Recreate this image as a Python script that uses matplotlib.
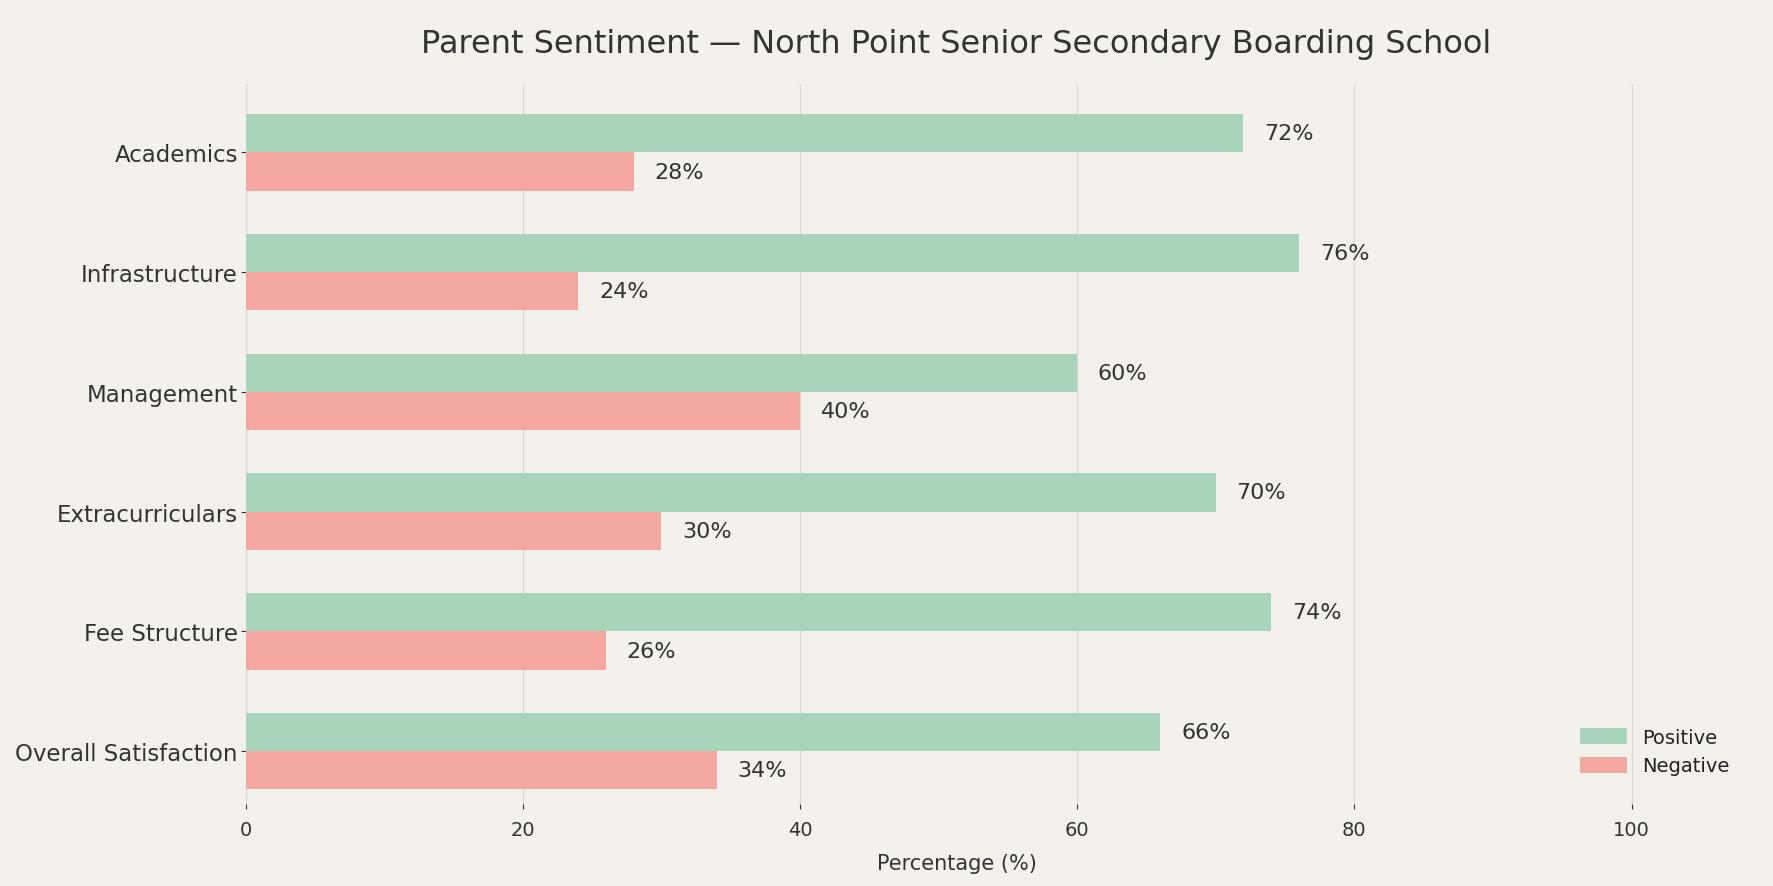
import matplotlib
matplotlib.use("Agg")
import matplotlib.pyplot as plt
import numpy as np

categories = ["Academics", "Infrastructure", "Management", "Extracurriculars",
              "Fee Structure", "Overall Satisfaction"]
positive = [72, 76, 60, 70, 74, 66]
negative = [28, 24, 40, 30, 26, 34]

BG = "#f4f0ec"
GREEN = "#a8d4ba"
RED = "#f4a6a0"
TXT = "#333333"

plt.rcParams['font.family'] = ['DejaVu Sans']

fig = plt.figure(figsize=(17.74, 8.87), dpi=100, facecolor=BG)
ax = fig.add_axes([0.1384, 0.092, 0.8016, 0.812])
ax.set_facecolor(BG)

y = np.arange(len(categories))
h = 0.32
ax.barh(y - h / 2, positive, height=h, color=GREEN, label="Positive", zorder=3)
ax.barh(y + h / 2, negative, height=h, color=RED, label="Negative", zorder=3)

for i, (p, n) in enumerate(zip(positive, negative)):
    ax.text(p + 1.5, i - h / 2, f"{p}%", va="center", ha="left", fontsize=16, color=TXT)
    ax.text(n + 1.5, i + h / 2, f"{n}%", va="center", ha="left", fontsize=16, color=TXT)

ax.set_yticks(y)
ax.set_yticklabels(categories, fontsize=16.5, color=TXT)
ax.set_ylim(5.445, -0.57)
ax.set_xlim(0, 102.6)
ax.set_xticks([0, 20, 40, 60, 80, 100])
ax.tick_params(axis="x", labelsize=14, colors=TXT, length=3.5, pad=8)
ax.tick_params(axis="y", colors=TXT, length=3.5, pad=2)
for s in ax.spines.values():
    s.set_visible(False)
ax.grid(axis="x", color="#dcd8d4", linewidth=1.0, zorder=0)
ax.set_axisbelow(True)

ax.set_xlabel("Percentage (%)", fontsize=15, color=TXT, labelpad=10)
ax.set_title("Parent Sentiment \u2014 North Point Senior Secondary Boarding School",
             fontsize=23, color=TXT, pad=23)

leg = fig.legend(loc="lower right", bbox_to_anchor=(0.985, 0.105), frameon=False,
                 fontsize=14, handlelength=2.4, handleheight=0.9, labelspacing=0.5)
for t in leg.get_texts():
    t.set_color("#222222")

fig.savefig("out.png", dpi=100, facecolor=BG)
